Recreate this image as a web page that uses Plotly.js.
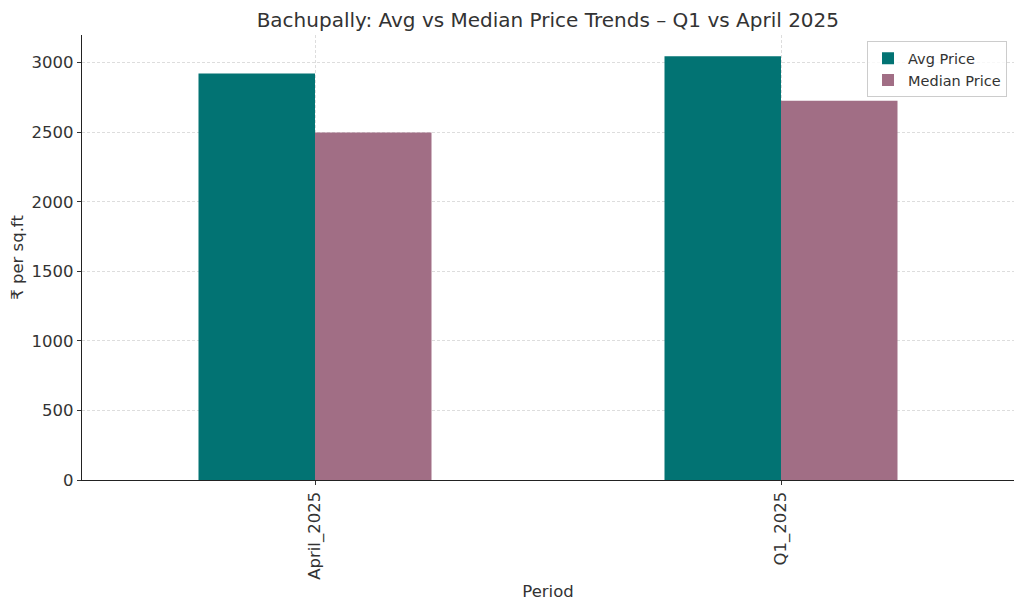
<!DOCTYPE html>
<html>
<head>
<meta charset="utf-8">
<script src="https://cdn.plot.ly/plotly-3.0.1.min.js"></script>
<style>
  body { margin: 0; background: #fff; }
  #chart { width: 1024px; height: 611px; }
</style>
</head>
<body>
<div id="chart"></div>
<script>
// periods on the x axis, in the order pandas drew them
var periods = ["April_2025", "Q1_2025"];
var avgPrice = [2922, 3046];
var medianPrice = [2498, 2726];
var yTicks = [0, 500, 1000, 1500, 2000, 2500, 3000];

var textColor = "#333333";
var fontFamily = "DejaVu Sans, Liberation Sans, sans-serif";

var data = [
  {
    x: periods,
    y: avgPrice,
    name: "Avg Price",
    type: "bar",
    marker: { color: "#027373" },
    hoverinfo: "name+y"
  },
  {
    x: periods,
    y: medianPrice,
    name: "Median Price",
    type: "bar",
    marker: { color: "#a16e85" },
    hoverinfo: "name+y"
  }
];

var layout = {
  width: 1024,
  height: 611,
  margin: { l: 82, r: 10, t: 35, b: 131 },
  paper_bgcolor: "#ffffff",
  plot_bgcolor: "#ffffff",
  font: { family: fontFamily, color: textColor, size: 16.5 },
  title: {
    text: "Bachupally: Avg vs Median Price Trends – Q1 vs April 2025",
    font: { size: 20, color: textColor },
    x: 0.535, xanchor: "center",
    y: 0.968, yanchor: "middle"
  },
  barmode: "group",
  bargap: 0.5,
  bargroupgap: 0,
  showlegend: true,
  legend: {
    x: 0.9925, xanchor: "right",
    y: 0.986, yanchor: "top",
    bgcolor: "rgba(255,255,255,0.8)",
    bordercolor: "#cccccc",
    borderwidth: 1,
    font: { size: 14.5, color: textColor },
    tracegroupgap: 0
  },
  xaxis: {
    type: "category",
    range: [-0.5, 1.5],
    tickangle: -90,
    tickfont: { size: 16.5 },
    ticks: "outside", ticklen: 4, tickcolor: textColor,
    showline: true, linecolor: "#222222", linewidth: 1.2, mirror: false,
    showgrid: true, gridcolor: "#dddddd", griddash: "3px,2px", gridwidth: 1,
    zeroline: false,
    title: { text: "Period", font: { size: 16.5 }, standoff: 6 }
  },
  yaxis: {
    range: [0, 3199],
    tickvals: yTicks,
    tickfont: { size: 16.5 },
    ticks: "outside", ticklen: 4, tickcolor: textColor,
    showline: true, linecolor: "#222222", linewidth: 1.2, mirror: false,
    showgrid: true, gridcolor: "#dddddd", griddash: "3px,2px", gridwidth: 1,
    zeroline: false,
    title: { text: "₹ per sq.ft", font: { size: 16.5 }, standoff: 3 }
  },
  hovermode: "closest"
};

Plotly.newPlot("chart", data, layout, { displayModeBar: false, staticPlot: true });
</script>
</body>
</html>
